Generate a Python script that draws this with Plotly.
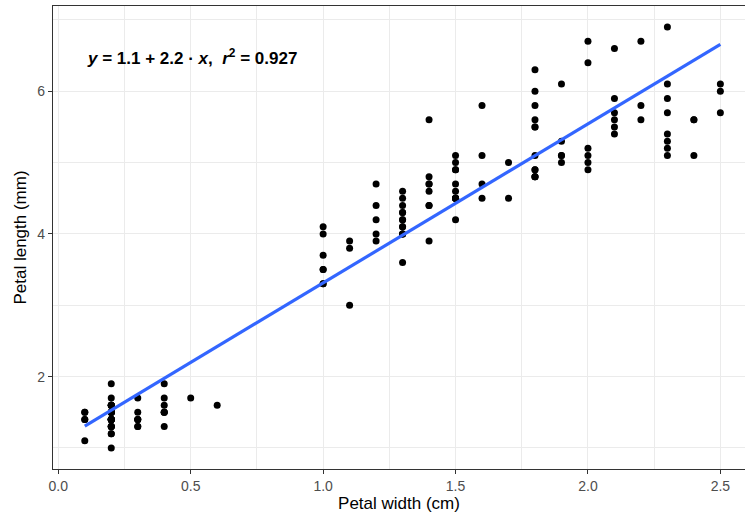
import numpy as np
import plotly.graph_objects as go

petal_width = [
    0.2,0.2,0.2,0.2,0.2,0.4,0.3,0.2,0.2,0.1,0.2,0.2,0.1,0.1,0.2,0.4,0.4,0.3,0.3,0.3,
    0.2,0.4,0.2,0.5,0.2,0.2,0.4,0.2,0.2,0.2,0.2,0.4,0.1,0.2,0.2,0.2,0.2,0.1,0.2,0.2,
    0.3,0.3,0.2,0.6,0.4,0.3,0.2,0.2,0.2,0.2,
    1.4,1.5,1.5,1.3,1.5,1.3,1.6,1.0,1.3,1.4,1.0,1.5,1.0,1.4,1.3,1.4,1.5,1.0,1.5,1.1,
    1.8,1.3,1.5,1.2,1.3,1.4,1.4,1.7,1.5,1.0,1.1,1.0,1.2,1.6,1.5,1.6,1.5,1.3,1.3,1.3,
    1.2,1.4,1.2,1.0,1.3,1.2,1.3,1.3,1.1,1.3,
    2.5,1.9,2.1,1.8,2.2,2.1,1.7,1.8,1.8,2.5,2.0,1.9,2.1,2.0,2.4,2.3,1.8,2.2,2.3,1.5,
    2.3,2.0,2.0,1.8,2.1,1.8,1.8,1.8,2.1,1.6,1.9,2.0,2.2,1.5,1.4,2.3,2.4,1.8,1.8,2.1,
    2.4,2.3,1.9,2.3,2.5,2.3,1.9,2.0,2.3,1.8,
]
petal_length = [
    1.4,1.4,1.3,1.5,1.4,1.7,1.4,1.5,1.4,1.5,1.5,1.6,1.4,1.1,1.2,1.5,1.3,1.4,1.7,1.5,
    1.7,1.5,1.0,1.7,1.9,1.6,1.6,1.5,1.4,1.6,1.6,1.5,1.5,1.4,1.5,1.2,1.3,1.4,1.3,1.5,
    1.3,1.3,1.3,1.6,1.9,1.4,1.6,1.4,1.5,1.4,
    4.7,4.5,4.9,4.0,4.6,4.5,4.7,3.3,4.6,3.9,3.5,4.2,4.0,4.7,3.6,4.4,4.5,4.1,4.5,3.9,
    4.8,4.0,4.9,4.7,4.3,4.4,4.8,5.0,4.5,3.5,3.8,3.7,3.9,5.1,4.5,4.5,4.7,4.4,4.1,4.0,
    4.4,4.6,4.0,3.3,4.2,4.2,4.2,4.3,3.0,4.1,
    6.0,5.1,5.9,5.6,5.8,6.6,4.5,6.3,5.8,6.1,5.1,5.3,5.5,5.0,5.1,5.3,5.5,6.7,6.9,5.0,
    5.7,4.9,6.7,4.9,5.7,6.0,4.8,4.9,5.6,5.8,6.1,6.4,5.6,5.1,5.6,6.1,5.6,5.5,4.8,5.4,
    5.6,5.1,5.1,5.9,5.7,5.2,5.0,5.2,5.4,5.1,
]
x_ticks = [0.0, 0.5, 1.0, 1.5, 2.0, 2.5]
x_tick_labels = ["0.0", "0.5", "1.0", "1.5", "2.0", "2.5"]
y_ticks = [2, 4, 6]
y_tick_labels = ["2", "4", "6"]
label_text = "<b><i>y</i> = 1.1 + 2.2 · <i>x</i>,  <i>r</i><sup>2</sup> = 0.927</b>"

xw = np.array(petal_width)
yl = np.array(petal_length)
slope, intercept = np.polyfit(xw, yl, 1)
fit_x = np.linspace(xw.min(), xw.max(), 80)
fit_y = intercept + slope * fit_x

fig = go.Figure()
fig.add_trace(go.Scatter(x=petal_width, y=petal_length, mode="markers",
                         marker=dict(color="black", size=7), showlegend=False))
fig.add_trace(go.Scatter(x=fit_x, y=fit_y, mode="lines",
                         line=dict(color="#3366FF", width=3.2), showlegend=False))

fig.add_annotation(x=0.1, y=6.486, xref="x", yref="y", text=label_text,
                   showarrow=False, xanchor="left", yanchor="middle",
                   font=dict(family="Liberation Sans, Arial", size=17, color="black"))

grid = "#EBEBEB"
fig.update_layout(
    width=745, height=519,
    margin=dict(l=53, r=0, t=6, b=50),
    paper_bgcolor="white", plot_bgcolor="white",
    font=dict(family="Liberation Sans, Arial", color="black"),
    xaxis=dict(range=[-0.02, 2.593], tickvals=x_ticks, ticktext=x_tick_labels,
               showgrid=True, gridcolor=grid, gridwidth=1.1,
               minor=dict(dtick=0.25, tick0=0.25, showgrid=True, gridcolor=grid, gridwidth=0.55),
               showline=True, linecolor="#333333", linewidth=1.1, mirror=True,
               ticks="outside", ticklen=4, tickcolor="#333333", tickwidth=1.1,
               tickfont=dict(size=14, color="#4D4D4D"), zeroline=False,
               title=dict(text="Petal width (cm)", font=dict(size=17, color="black"), standoff=4)),
    yaxis=dict(range=[0.705, 7.195], tickvals=y_ticks, ticktext=y_tick_labels,
               showgrid=True, gridcolor=grid, gridwidth=1.1,
               minor=dict(dtick=1, tick0=1, showgrid=True, gridcolor=grid, gridwidth=0.55),
               showline=True, linecolor="#333333", linewidth=1.1, mirror=False,
               ticks="outside", ticklen=4, tickcolor="#333333", tickwidth=1.1,
               tickfont=dict(size=14, color="#4D4D4D"), zeroline=False,
               title=dict(text="Petal length (mm)", font=dict(size=17, color="black"), standoff=6)),
)
fig.write_html("out.html")
